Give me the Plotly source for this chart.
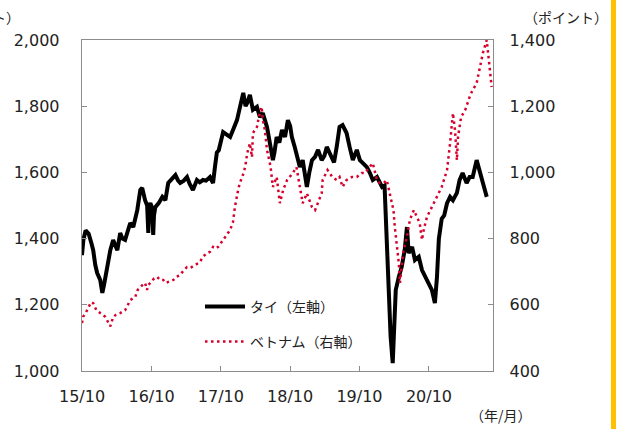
import plotly.graph_objects as go

# ---- Data: Thailand SET index (left axis) ----
thai_dates = [
    "2015-10-01", "2015-10-08", "2015-10-20", "2015-11-05", "2015-11-20", "2015-11-29",
    "2015-12-10", "2015-12-20", "2016-01-05", "2016-01-16", "2016-01-25", "2016-02-01",
    "2016-02-15", "2016-02-27", "2016-03-13", "2016-03-25", "2016-04-04", "2016-04-19",
    "2016-05-01", "2016-05-15", "2016-05-28", "2016-06-11", "2016-06-27", "2016-07-10",
    "2016-07-18", "2016-08-03", "2016-08-13", "2016-08-28", "2016-09-08", "2016-09-14",
    "2016-09-18", "2016-09-25", "2016-10-03", "2016-10-10", "2016-10-14", "2016-10-21",
    "2016-11-08", "2016-11-27", "2016-12-13", "2016-12-28", "2017-01-15", "2017-02-04",
    "2017-02-18", "2017-03-01", "2017-03-20", "2017-04-06", "2017-04-20", "2017-05-07",
    "2017-05-28", "2017-06-12", "2017-06-29", "2017-07-15", "2017-08-05", "2017-08-21",
    "2017-08-31", "2017-09-10", "2017-09-20", "2017-10-13", "2017-10-30", "2017-11-19",
    "2017-12-04", "2017-12-25", "2018-01-10", "2018-01-27", "2018-02-08", "2018-02-17",
    "2018-03-03", "2018-03-19", "2018-04-09", "2018-04-25", "2018-05-10", "2018-06-01",
    "2018-06-16", "2018-07-02", "2018-07-10", "2018-07-22", "2018-08-05", "2018-08-19",
    "2018-09-04", "2018-09-19", "2018-10-01", "2018-10-10", "2018-10-25", "2018-11-08",
    "2018-11-21", "2018-12-06", "2018-12-18", "2018-12-28", "2019-01-10", "2019-01-24",
    "2019-02-09", "2019-02-25", "2019-03-16", "2019-03-30", "2019-04-12", "2019-05-07",
    "2019-05-20", "2019-06-03", "2019-06-18", "2019-07-04", "2019-07-25", "2019-08-10",
    "2019-08-27", "2019-09-17", "2019-10-03", "2019-10-19", "2019-11-09", "2019-11-25",
    "2019-12-10", "2020-01-01", "2020-01-15", "2020-01-28", "2020-02-10", "2020-02-22",
    "2020-03-03", "2020-03-08", "2020-03-13", "2020-03-24", "2020-04-04", "2020-04-09",
    "2020-04-25", "2020-05-10", "2020-05-26", "2020-06-07", "2020-06-16", "2020-07-04",
    "2020-07-19", "2020-08-08", "2020-08-25", "2020-09-20", "2020-10-16", "2020-11-01",
    "2020-11-12", "2020-11-22", "2020-12-07", "2020-12-20", "2021-01-04", "2021-01-20",
    "2021-02-04", "2021-02-25", "2021-03-11", "2021-03-27", "2021-04-17", "2021-05-03",
    "2021-05-19", "2021-06-09", "2021-06-25", "2021-07-12", "2021-08-01",
]
thai_values = [
    1350, 1395, 1425, 1415, 1385, 1365,
    1320, 1296, 1275, 1236, 1260, 1284,
    1320, 1365, 1396, 1380, 1365, 1417,
    1400, 1396, 1420, 1447, 1435, 1470,
    1486, 1547, 1553, 1516, 1500, 1417,
    1500, 1507, 1495, 1411, 1470, 1495,
    1507, 1526, 1516, 1568, 1580, 1592,
    1575, 1568, 1575, 1586, 1565, 1547,
    1577, 1570, 1577, 1575, 1586, 1568,
    1616, 1660, 1667, 1722, 1715, 1707,
    1728, 1758, 1798, 1840, 1800, 1810,
    1834, 1789, 1798, 1767, 1779, 1737,
    1689, 1637, 1660, 1707, 1690, 1728,
    1707, 1758, 1740, 1707, 1677, 1650,
    1616, 1637, 1590, 1556, 1600, 1637,
    1647, 1668, 1637, 1650, 1677, 1647,
    1630, 1677, 1737, 1743, 1719, 1677,
    1637, 1668, 1637, 1628, 1616, 1598,
    1577, 1586, 1570, 1556, 1560, 1365,
    1266, 1145, 1103, 1024, 1145, 1245,
    1284, 1314, 1365, 1435, 1356, 1375,
    1335, 1345, 1305, 1275, 1245, 1205,
    1284, 1400, 1460, 1470, 1507, 1526,
    1516, 1538, 1577, 1598, 1568, 1586,
    1586, 1637, 1598, 1568, 1526,
]

# ---- Data: Vietnam VN index (right axis) ----
vn_dates = [
    "2015-10-01", "2015-10-08", "2015-10-20", "2015-11-05", "2015-11-18", "2015-11-29",
    "2015-12-15", "2016-01-05", "2016-01-20", "2016-02-01", "2016-02-15", "2016-02-27",
    "2016-03-13", "2016-03-28", "2016-04-19", "2016-05-15", "2016-05-30", "2016-06-11",
    "2016-06-25", "2016-07-07", "2016-07-20", "2016-08-03", "2016-08-15", "2016-08-28",
    "2016-09-07", "2016-09-15", "2016-09-25", "2016-10-15", "2016-10-31", "2016-11-15",
    "2016-12-02", "2016-12-15", "2016-12-28", "2017-01-24", "2017-02-10", "2017-03-01",
    "2017-03-20", "2017-04-06", "2017-04-25", "2017-05-18", "2017-06-13", "2017-06-28",
    "2017-07-20", "2017-08-05", "2017-08-21", "2017-09-05", "2017-09-17", "2017-10-13",
    "2017-10-25", "2017-11-19", "2017-12-04", "2017-12-14", "2017-12-31", "2018-01-10",
    "2018-01-22", "2018-02-06", "2018-02-17", "2018-03-03", "2018-03-14", "2018-03-19",
    "2018-04-09", "2018-04-19", "2018-05-04", "2018-05-10", "2018-05-21", "2018-06-01",
    "2018-06-16", "2018-06-22", "2018-07-02", "2018-07-22", "2018-08-08", "2018-08-25",
    "2018-09-15", "2018-09-28", "2018-10-15", "2018-11-03", "2018-11-21", "2018-12-06",
    "2018-12-28", "2019-01-24", "2019-02-09", "2019-02-25", "2019-03-16", "2019-03-21",
    "2019-04-16", "2019-05-11", "2019-06-03", "2019-06-18", "2019-07-04", "2019-07-25",
    "2019-08-22", "2019-09-17", "2019-10-13", "2019-10-29", "2019-11-25", "2019-12-10",
    "2020-01-01", "2020-01-16", "2020-02-06", "2020-02-22", "2020-03-08", "2020-03-28",
    "2020-04-04", "2020-04-14", "2020-04-25", "2020-05-01", "2020-05-10", "2020-05-20",
    "2020-06-07", "2020-06-22", "2020-07-13", "2020-07-30", "2020-08-13", "2020-08-25",
    "2020-09-03", "2020-09-20", "2020-10-16", "2020-11-12", "2020-12-07", "2021-01-04",
    "2021-01-10", "2021-01-20", "2021-02-04", "2021-02-15", "2021-02-25", "2021-03-03",
    "2021-03-19", "2021-04-10", "2021-05-03", "2021-05-14", "2021-06-09", "2021-06-25",
    "2021-07-12", "2021-08-01", "2021-08-17", "2021-08-27",
]
vn_values = [
    545, 565, 575, 595, 608, 605,
    585, 575, 570, 563, 550, 535,
    563, 570, 575, 584, 600, 614,
    620, 623, 645, 654, 660, 666,
    645, 660, 666, 680, 684, 675,
    675, 666, 669, 675, 685, 690,
    705, 714, 712, 720, 729, 745,
    756, 760, 775, 770, 775, 796,
    805, 826, 850, 895, 947, 970,
    986, 1016, 1058, 1088, 1046, 1119,
    1137, 1167, 1198, 1158, 1128, 1068,
    1028, 1007, 956, 986, 907, 947,
    977, 986, 998, 1016, 956, 907,
    937, 895, 886, 907, 937, 977,
    1007, 986, 977, 986, 956, 977,
    986, 986, 998, 998, 1016, 1028,
    977, 968, 968, 977, 937, 886,
    835, 787, 726, 666, 714, 765,
    805, 856, 886, 865, 847, 796,
    826, 865, 895, 926, 956, 1007,
    1046, 1088, 1179, 1128, 1037, 1107,
    1167, 1189, 1228, 1243, 1270, 1319,
    1361, 1400, 1310, 1258,
]

x_tick_dates = ["2015-10-01", "2016-10-01", "2017-10-01", "2018-10-01", "2019-10-01", "2020-10-01"]
x_tick_labels = ["15/10", "16/10", "17/10", "18/10", "19/10", "20/10"]
left_ticks = [1000, 1200, 1400, 1600, 1800, 2000]
right_ticks = [400, 600, 800, 1000, 1200, 1400]

thai_name = "タイ（左軸）"
vn_name = "ベトナム（右軸）"
left_title = "（ポイント）"
right_title = "（ポイント）"
x_title = "（年/月）"

NUM_FONT = "DejaVu Sans, Verdana, sans-serif"
JP_FONT = "Noto Sans CJK JP, DejaVu Sans, sans-serif"
TXT = "#222222"
AX = "#8c8c8c"

fig = go.Figure()
fig.add_trace(go.Scatter(
    x=thai_dates, y=thai_values, name=thai_name, mode="lines",
    line=dict(color="#000000", width=4), legend="legend", hoverinfo="skip",
))
fig.add_trace(go.Scatter(
    x=vn_dates, y=vn_values, name=vn_name, mode="lines", yaxis="y2",
    line=dict(color="#D7002D", width=2.5, dash="2.5px,3.5px"), legend="legend2",
    hoverinfo="skip",
))

axis_common = dict(
    showgrid=False, zeroline=False, showline=True, linecolor=AX, linewidth=1.3,
    ticks="inside", ticklen=5, tickcolor=AX, tickwidth=1,
    tickfont=dict(family=NUM_FONT, size=16, color=TXT),
)

legend_common = dict(
    xanchor="left", yanchor="middle", bgcolor="rgba(0,0,0,0)", borderwidth=0,
    itemwidth=40, font=dict(family=JP_FONT, size=14, color=TXT),
)

fig.update_layout(
    width=617, height=429,
    margin=dict(l=82, r=124, t=40, b=58),
    paper_bgcolor="white", plot_bgcolor="white",
    xaxis=dict(
        type="date", range=["2015-10-01", "2021-09-03"],
        tickvals=x_tick_dates, ticktext=x_tick_labels, mirror=True,
        ticklabelstandoff=10, **axis_common,
    ),
    yaxis=dict(
        range=[1000, 2000], tickvals=left_ticks, tickformat=",d",
        ticklabelstandoff=18, **axis_common,
    ),
    yaxis2=dict(
        overlaying="y", side="right", range=[400, 1400], tickvals=right_ticks,
        tickformat=",d", ticklabelstandoff=12, **axis_common,
    ),
    legend=dict(x=(200 - 82) / 411, y=(371 - 307) / 331, **legend_common),
    legend2=dict(x=(200 - 82) / 411, y=(371 - 342) / 331, **legend_common),
    showlegend=True,
    annotations=[
        dict(text=left_title, xref="paper", yref="paper", x=(22 - 82) / 411, y=(371 - 17) / 331,
             xanchor="right", yanchor="middle", showarrow=False,
             font=dict(family=JP_FONT, size=14, color=TXT)),
        dict(text=right_title, xref="paper", yref="paper", x=(566 - 82) / 411, y=(371 - 17) / 331,
             xanchor="center", yanchor="middle", showarrow=False,
             font=dict(family=JP_FONT, size=14, color=TXT)),
        dict(text=x_title, xref="paper", yref="paper", x=(534 - 82) / 411, y=(371 - 415) / 331,
             xanchor="right", yanchor="middle", showarrow=False,
             font=dict(family=JP_FONT, size=14, color=TXT)),
    ],
    shapes=[
        dict(type="rect", xref="paper", yref="paper",
             x0=(611 - 82) / 411, x1=(616 - 82) / 411, y0=-0.2, y1=1.2,
             fillcolor="#FFC000", line=dict(width=0), layer="above"),
    ],
)

fig.write_html(
    "out.html",
    config={"displayModeBar": False, "staticPlot": True},
    post_script="document.body.style.margin='0';document.body.style.overflow='hidden';",
)
